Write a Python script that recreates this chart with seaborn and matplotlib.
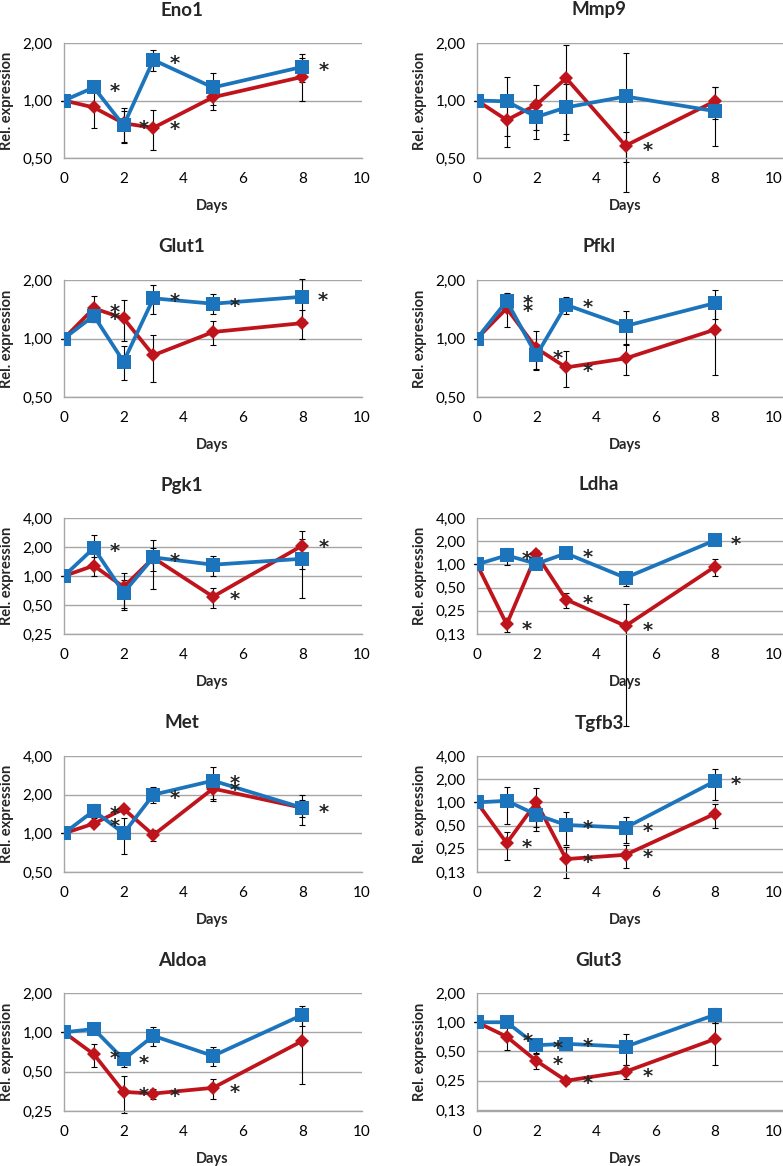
import pandas as pd
import seaborn as sns
import matplotlib.pyplot as plt
from matplotlib.ticker import FixedLocator, NullLocator
from matplotlib.transforms import offset_copy

RED = '#C0141C'
BLUE = '#1C75BC'
GRID = '#A6A6A6'

days = [0, 1, 2, 3, 5, 8]
xticks = [0, 2, 4, 6, 8, 10]

# valores (rojo = rombos, azul = cuadrados)
eno1_red = [1.00, 0.92, 0.76, 0.72, 1.04, 1.33]
eno1_red_err = [0.0, 0.20, 0.15, 0.17, 0.15, 0.33]
eno1_blue = [1.00, 1.17, 0.74, 1.63, 1.17, 1.50]
eno1_blue_err = [0.0, 0.05, 0.14, 0.20, 0.22, 0.25]
eno1_stars = [(1.70, 1.21), (2.69, 0.77), (3.72, 0.76), (3.72, 1.69), (8.71, 1.56)]

mmp9_red = [1.00, 0.79, 0.95, 1.31, 0.58, 0.99]
mmp9_red_err = [0.0, 0.22, 0.25, 0.64, 0.105, 0.19]
mmp9_blue = [1.00, 0.99, 0.82, 0.92, 1.05, 0.88]
mmp9_blue_err = [0.0, 0.34, 0.19, 0.30, 0.72, 0.30]
mmp9_stars = [(5.73, 0.595)]

glut1_red = [1.00, 1.43, 1.27, 0.82, 1.08, 1.20]
glut1_red_err = [0.0, 0.22, 0.30, 0.22, 0.15, 0.20]
glut1_blue = [1.00, 1.31, 0.76, 1.61, 1.51, 1.64]
glut1_blue_err = [0.0, 0.10, 0.15, 0.28, 0.18, 0.38]
glut1_stars = [(1.70, 1.47), (1.70, 1.35), (3.72, 1.67), (5.74, 1.58), (8.69, 1.69)]

pfkl_red = [1.00, 1.43, 0.89, 0.71, 0.79, 1.11]
pfkl_red_err = [0.0, 0.28, 0.20, 0.15, 0.14, 0.46]
pfkl_blue = [1.00, 1.56, 0.82, 1.49, 1.16, 1.52]
pfkl_blue_err = [0.0, 0.13, 0.12, 0.15, 0.22, 0.26]
pfkl_stars = [(1.72, 1.64), (1.72, 1.49), (2.72, 0.85), (3.73, 0.73), (3.73, 1.55)]

pgk1_red = [1.00, 1.28, 0.77, 1.54, 0.61, 2.07]
pgk1_red_err = [0.0, 0.28, 0.30, 0.41, 0.14, 0.88]
pgk1_blue = [1.00, 1.95, 0.67, 1.56, 1.31, 1.51]
pgk1_blue_err = [0.0, 0.74, 0.23, 0.83, 0.31, 0.92]
pgk1_stars = [(1.70, 2.11), (3.72, 1.66), (5.74, 0.67), (8.71, 2.29)]

ldha_red = [1.00, 0.167, 1.35, 0.35, 0.159, 0.93]
ldha_red_err = [0.0, 0.035, 0.20, 0.08, 0.151, 0.23]
ldha_blue = [1.00, 1.31, 1.02, 1.39, 0.67, 2.05]
ldha_blue_err = [0.0, 0.33, 0.05, 0.05, 0.15, 0.0]
ldha_stars = [(1.69, 1.42), (1.69, 0.175), (3.71, 1.49), (3.71, 0.38), (5.73, 0.167), (8.71, 2.2)]

met_red = [1.00, 1.19, 1.55, 0.97, 2.23, 1.58]
met_red_err = [0.0, 0.05, 0.06, 0.10, 0.45, 0.24]
met_blue = [1.00, 1.50, 1.00, 2.00, 2.57, 1.58]
met_blue_err = [0.0, 0.19, 0.31, 0.28, 0.73, 0.42]
met_stars = [(1.70, 1.58), (1.70, 1.26), (3.72, 2.08), (5.74, 2.74), (5.74, 2.43), (8.71, 1.64)]

tgfb3_red = [1.00, 0.296, 1.00, 0.184, 0.209, 0.71]
tgfb3_red_err = [0.0, 0.115, 0.52, 0.08, 0.07, 0.25]
tgfb3_blue = [1.00, 1.05, 0.69, 0.51, 0.47, 1.88]
tgfb3_blue_err = [0.0, 0.52, 0.27, 0.23, 0.17, 0.80]
tgfb3_stars = [(1.69, 0.317), (3.71, 0.556), (3.71, 0.20), (5.73, 0.51), (5.73, 0.234), (8.71, 2.04)]

aldoa_red = [1.00, 0.68, 0.35, 0.34, 0.376, 0.86]
aldoa_red_err = [0.0, 0.135, 0.11, 0.03, 0.065, 0.46]
aldoa_blue = [1.00, 1.06, 0.62, 0.94, 0.66, 1.36]
aldoa_blue_err = [0.0, 0.03, 0.08, 0.15, 0.11, 0.24]
aldoa_stars = [(1.70, 0.71), (2.69, 0.65), (2.69, 0.37), (3.72, 0.36), (5.74, 0.39)]

glut3_red = [1.00, 0.71, 0.40, 0.25, 0.31, 0.67]
glut3_red_err = [0.0, 0.19, 0.07, 0.02, 0.05, 0.31]
glut3_blue = [1.00, 1.00, 0.58, 0.60, 0.56, 1.19]
glut3_blue_err = [0.0, 0.03, 0.10, 0.03, 0.20, 0.20]
glut3_stars = [(1.72, 0.745), (2.72, 0.62), (2.72, 0.43), (3.73, 0.65), (3.73, 0.27), (5.73, 0.325)]

ticks_a = [0.5, 1, 2]
ticks_b = [0.25, 0.5, 1, 2, 4]
ticks_c = [0.125, 0.25, 0.5, 1, 2, 4]
ticks_d = [0.5, 1, 2, 4]
ticks_e = [0.25, 0.5, 1, 2]
ticks_f = [0.125, 0.25, 0.5, 1, 2]

paneles = [
    ('Eno1', eno1_red, eno1_red_err, eno1_blue, eno1_blue_err, eno1_stars, ticks_a, (0.5, 2)),
    ('Mmp9', mmp9_red, mmp9_red_err, mmp9_blue, mmp9_blue_err, mmp9_stars, ticks_a, (0.5, 2)),
    ('Glut1', glut1_red, glut1_red_err, glut1_blue, glut1_blue_err, glut1_stars, ticks_a, (0.5, 2)),
    ('Pfkl', pfkl_red, pfkl_red_err, pfkl_blue, pfkl_blue_err, pfkl_stars, ticks_a, (0.5, 2)),
    ('Pgk1', pgk1_red, pgk1_red_err, pgk1_blue, pgk1_blue_err, pgk1_stars, ticks_b, (0.25, 4)),
    ('Ldha', ldha_red, ldha_red_err, ldha_blue, ldha_blue_err, ldha_stars, ticks_c, (0.125, 4)),
    ('Met', met_red, met_red_err, met_blue, met_blue_err, met_stars, ticks_d, (0.5, 4)),
    ('Tgfb3', tgfb3_red, tgfb3_red_err, tgfb3_blue, tgfb3_blue_err, tgfb3_stars, ticks_c, (0.125, 4)),
    ('Aldoa', aldoa_red, aldoa_red_err, aldoa_blue, aldoa_blue_err, aldoa_stars, ticks_e, (0.25, 2)),
    ('Glut3', glut3_red, glut3_red_err, glut3_blue, glut3_blue_err, glut3_stars, ticks_f, (0.122, 2)),
]

sns.set_style('white')
plt.rcParams['font.family'] = ['Lato', 'DejaVu Sans']

W, H = 783, 1166
fig = plt.figure(figsize=(W / 100, H / 100), dpi=100)

fila_top = [43, 280, 518, 756, 993]
fila_bot = [158, 397, 634, 872, 1111]
col_izq = [64, 477]
col_ancho = [298, 306]
col_xmax = [10, 10.3]
titulo_x = [182, 599]


def etiqueta(t):
    return ('%.2f' % (t + 1e-9)).replace('.', ',')


for i, (nombre, rojo, rojo_err, azul, azul_err, estrellas, ticks, ylim) in enumerate(paneles):
    f, c = i // 2, i % 2
    top, bot = fila_top[f], fila_bot[f]
    izq, ancho = col_izq[c], col_ancho[c]
    ax = fig.add_axes([izq / W, 1 - bot / H, ancho / W, (bot - top) / H])

    # barras de error por debajo de las lineas
    for vals, errs in [(rojo, rojo_err), (azul, azul_err)]:
        eb = ax.errorbar(days, vals, yerr=errs, fmt='none', ecolor='black',
                         elinewidth=0.8, capsize=2.5, capthick=0.8, zorder=2)
        for art in list(eb.lines[1]) + list(eb.lines[2]):
            art.set_clip_on(False)

    df_rojo = pd.DataFrame({'day': days, 'value': rojo})
    df_azul = pd.DataFrame({'day': days, 'value': azul})
    sns.lineplot(data=df_rojo, x='day', y='value', color=RED, marker='D',
                 markersize=7.5, markeredgewidth=0, linewidth=2.7, ax=ax, zorder=3)
    sns.lineplot(data=df_azul, x='day', y='value', color=BLUE, marker='s',
                 markersize=9.5, markeredgewidth=0, linewidth=2.7, ax=ax, zorder=4)

    ax.set_yscale('log', base=2)
    ax.set_ylim(*ylim)
    ax.yaxis.set_major_locator(FixedLocator(ticks))
    ax.yaxis.set_minor_locator(NullLocator())
    ax.set_yticklabels([etiqueta(t) for t in ticks])
    ax.set_xlim(0, col_xmax[c])
    ax.set_xticks(xticks)
    ax.set_xticklabels([str(t) for t in xticks])
    ax.set_xlabel('')
    ax.set_ylabel('')

    ax.grid(axis='y', color=GRID, linewidth=1)
    ax.grid(axis='x', visible=False)
    ax.set_axisbelow(True)
    for lado in ['top', 'right']:
        ax.spines[lado].set_visible(False)
    for lado in ['left', 'bottom']:
        ax.spines[lado].set_color(GRID)
        ax.spines[lado].set_linewidth(1)
    ax.tick_params(axis='both', length=0, labelsize=11, colors='black')
    ax.tick_params(axis='x', pad=10)
    ax.tick_params(axis='y', pad=8)

    # asteriscos de significancia
    trans = offset_copy(ax.transData, fig=fig, y=-8.6, units='points')
    for sx, sy in estrellas:
        ax.text(sx, sy, '*', ha='center', va='baseline', fontsize=14,
                fontweight='bold', family=['DejaVu Sans'], transform=trans,
                clip_on=False, zorder=5)

    fig.text(titulo_x[c] / W, 1 - (top - 33) / H, nombre, ha='center', va='center',
             fontsize=13.5, fontweight='bold')
    fig.text((izq - 57) / W, 1 - ((top + bot) / 2) / H, 'Rel. expression', rotation=90,
             ha='center', va='center', fontsize=10.5, fontweight='bold')
    dias_x = izq + 148.5
    fig.text(dias_x / W, 1 - (bot + 48) / H, 'Days', ha='center', va='center',
             fontsize=10.5, fontweight='bold')

fig.savefig('out.png', dpi=100)
plt.close(fig)
